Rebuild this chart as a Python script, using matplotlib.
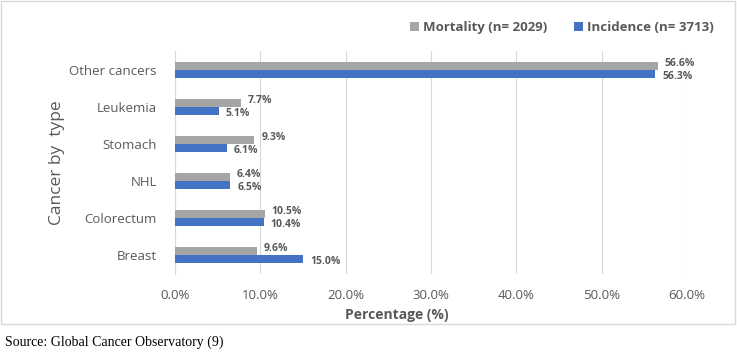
import matplotlib
matplotlib.use("Agg")
import matplotlib.pyplot as plt
from matplotlib.patches import Rectangle
import numpy as np

categories = ["Breast", "Colorectum", "NHL", "Stomach", "Leukemia", "Other cancers"]
mortality = [9.6, 10.5, 6.4, 9.3, 7.7, 56.6]
incidence = [15.0, 10.4, 6.5, 6.1, 5.1, 56.3]
xticks = [0, 10, 20, 30, 40, 50, 60]

GRAY = "#A5A5A5"
BLUE = "#4472C4"
TXT = "#595959"
FONT = ["Open Sans", "DejaVu Sans"]
plt.rcParams["font.family"] = FONT

fig = plt.figure(figsize=(7.37, 3.54), dpi=100)
ax = fig.add_axes([0.2375, 0.227, 0.6945, 0.628])

y = np.arange(len(categories))
h = 0.22
ax.barh(y + h / 2, mortality, height=h, color=GRAY, label="Mortality (n= 2029)", zorder=3)
ax.barh(y - h / 2, incidence, height=h, color=BLUE, label="Incidence (n= 3713)", zorder=3)

for yi, m, i in zip(y, mortality, incidence):
    ax.annotate(f"{m:.1f}%", (m, yi + h / 2), xytext=(5, 2), textcoords="offset points",
                va="center", ha="left", fontsize=7.5, fontweight="bold", color=TXT)
    ax.annotate(f"{i:.1f}%", (i, yi - h / 2), xytext=(5, -2), textcoords="offset points",
                va="center", ha="left", fontsize=7.5, fontweight="bold", color=TXT)

ax.set_xlim(0, 60)
ax.set_ylim(-0.5, len(categories) - 0.5)
ax.set_xticks(xticks)
ax.set_xticklabels([f"{t:.1f}%" for t in xticks])
ax.set_yticks(y)
ax.set_yticklabels(categories)
ax.tick_params(axis="both", length=0, labelsize=9.5, labelcolor=TXT)
ax.tick_params(axis="x", pad=11)
ax.tick_params(axis="y", pad=13)
ax.grid(axis="x", color="#D9D9D9", linewidth=0.8, zorder=0)
for s in ["top", "right", "bottom"]:
    ax.spines[s].set_visible(False)
ax.spines["left"].set_color("#D9D9D9")

ax.set_xlabel("Percentage (%)", fontsize=10, fontweight="bold", color=TXT, labelpad=2)
ax.xaxis.set_label_coords(0.434, -0.155)
ax.set_ylabel("Cancer by  type", fontsize=12.5, color=TXT, labelpad=3)

handles, labels = ax.get_legend_handles_labels()
leg = fig.legend(handles, labels, loc="center", bbox_to_anchor=(0.762, 0.922), ncol=2,
                 frameon=False, handlelength=0.7, handleheight=0.7, handletextpad=0.3,
                 columnspacing=2.0, prop={"family": FONT, "size": 9.5, "weight": "bold"})
for t in leg.get_texts():
    t.set_color(TXT)

# chart border box and source line
fig.patches.append(Rectangle((0.001, 1 - 324 / 354), 0.996, 324 / 354 - 0.002,
                             transform=fig.transFigure, fill=False,
                             edgecolor="#D9D9D9", linewidth=1))
fig.text(0.007, 1 - 342 / 354, "Source: Global Cancer Observatory (9)",
         family="Liberation Serif", fontsize=10, va="center", ha="left", color="black")

fig.savefig("out.png", dpi=100)
plt.close(fig)
